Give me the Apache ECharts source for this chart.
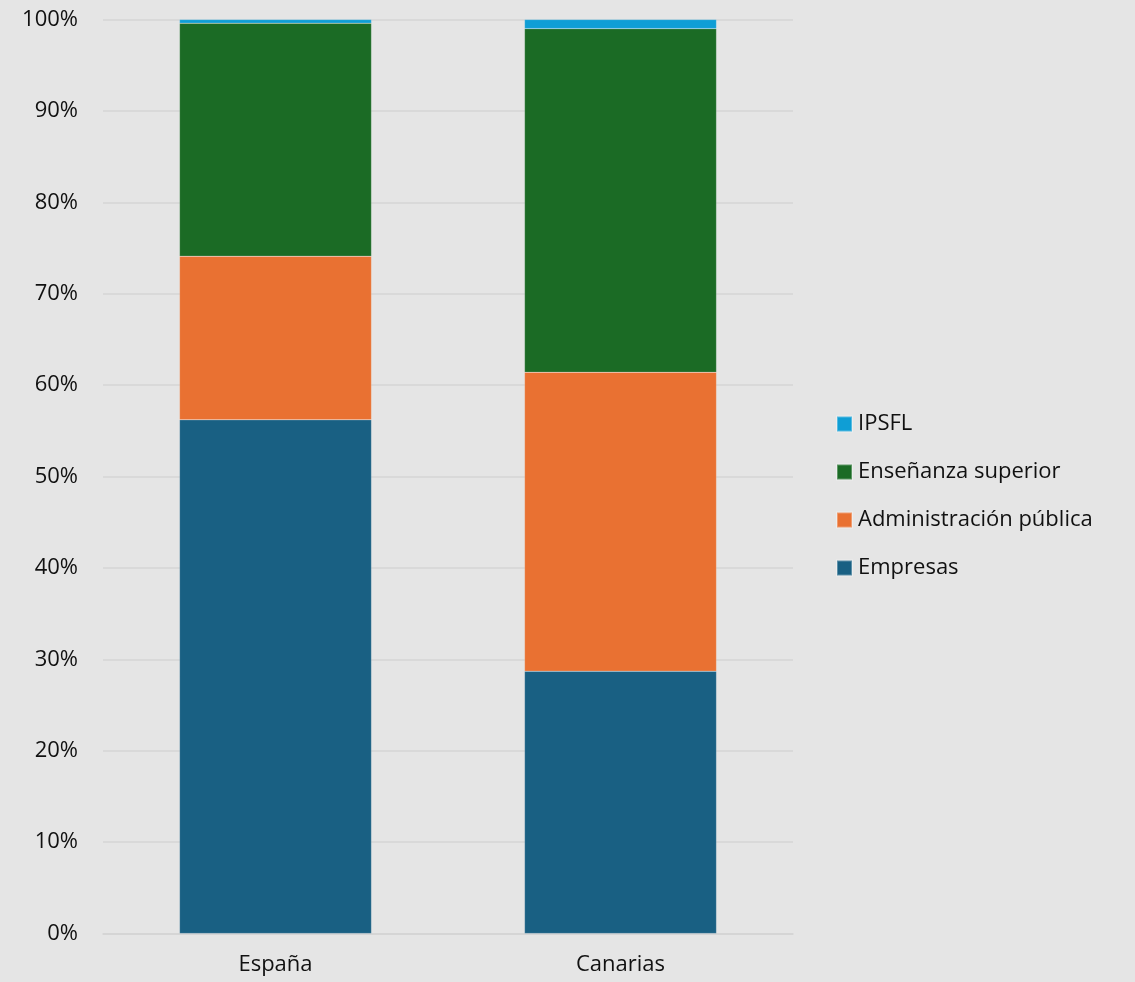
<!DOCTYPE html>
<html>
<head>
<meta charset="utf-8">
<script src="https://cdn.jsdelivr.net/npm/echarts@6/dist/echarts.min.js"></script>
<style>
html,body{margin:0;padding:0;background:#e5e5e5;}
#c{width:1135px;height:982px;}
</style>
</head>
<body>
<div id="c"></div>
<script>
const categories = ['España', 'Canarias'];
const empresas = [56.2, 28.7];
const administracion = [17.9, 32.7];
const ensenanza = [25.5, 37.6];
const ipsfl = [0.4, 1.0];
const legendOrder = ['IPSFL', 'Enseñanza superior', 'Administración pública', 'Empresas'];

const font = '"Open Sans", "Noto Sans", sans-serif';
const chart = echarts.init(document.getElementById('c'), null, {renderer: 'canvas'});
function s(name, data, color) {
  return {
    name: name, type: 'bar', stack: 'total', data: data,
    barWidth: 192,
    itemStyle: {color: color, borderColor: 'rgba(255,255,255,0.3)', borderWidth: 0.5},
    emphasis: {disabled: true}
  };
}
chart.setOption({
  backgroundColor: '#e5e5e5',
  animation: false,
  textStyle: {fontFamily: font},
  grid: {left: 103, right: 342, top: 19.5, bottom: 48.5, containLabel: false},
  legend: {
    data: legendOrder,
    orient: 'vertical',
    left: 836, top: 413,
    itemWidth: 15, itemHeight: 15, itemGap: 26,
    icon: 'rect',
    padding: 0,
    textStyle: {fontSize: 22, color: '#111', fontFamily: font, padding: [0, 0, 0, 1]}
  },
  xAxis: {
    type: 'category', data: categories,
    axisLine: {show: true, lineStyle: {color: '#d4d4d4', width: 1.5}},
    axisTick: {show: false},
    axisLabel: {fontSize: 22, color: '#111', margin: 20, fontFamily: font}
  },
  yAxis: {
    type: 'value', min: 0, max: 100, interval: 10,
    axisLine: {show: false}, axisTick: {show: false},
    splitLine: {lineStyle: {color: '#d4d4d4', width: 1.5}},
    axisLabel: {formatter: '{value}%', fontSize: 22, color: '#111', margin: 25, fontFamily: font}
  },
  series: [
    s('Empresas', empresas, '#196083'),
    s('Administración pública', administracion, '#e97132'),
    s('Enseñanza superior', ensenanza, '#1b6b25'),
    s('IPSFL', ipsfl, '#0f9ed5')
  ]
});
</script>
</body>
</html>
